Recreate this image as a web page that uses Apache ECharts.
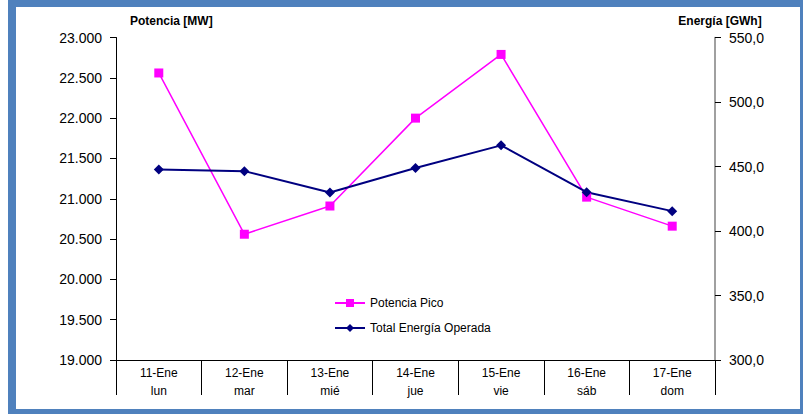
<!DOCTYPE html>
<html>
<head>
<meta charset="utf-8">
<script src="https://cdn.jsdelivr.net/npm/echarts@6/dist/echarts.min.js"></script>
<style>
  html, body { margin: 0; padding: 0; background: #fff; }
  #chart { width: 803px; height: 414px; }
</style>
</head>
<body>
<div id="chart"></div>
<script>
var days = ['11-Ene\nlun', '12-Ene\nmar', '13-Ene\nmié', '14-Ene\njue', '15-Ene\nvie', '16-Ene\nsáb', '17-Ene\ndom'];
var potenciaPico = [22560, 20560, 20910, 22000, 22790, 21020, 20660];
var energiaTotal = [447.7, 446.4, 429.9, 448.8, 466.4, 430.1, 415.4];

var frame = '#4F81BD';
var font = '"Liberation Sans", Arial, sans-serif';

var chart = echarts.init(document.getElementById('chart'), null, { renderer: 'svg' });
chart.setOption({
  animation: false,
  textStyle: { fontFamily: font },
  grid: { left: 116, right: 88, top: 37.5, bottom: 54 },
  legend: {
    orient: 'vertical', left: 329, top: 292, itemGap: 13,
    itemWidth: 30, itemHeight: 10,
    textStyle: { fontFamily: font, fontSize: 12, color: '#000' },
    data: ['Potencia Pico', 'Total Energía Operada']
  },
  xAxis: {
    type: 'category', data: days,
    axisLine: { show: true, onZero: false, lineStyle: { color: '#000', width: 1 } },
    axisTick: { show: true, interval: 0, length: 35, lineStyle: { color: '#000', width: 1 } },
    axisLabel: { color: '#000', fontSize: 12, lineHeight: 18, margin: 4, interval: 0 }
  },
  yAxis: [{
    type: 'value', min: 19000, max: 23000, interval: 500,
    name: 'Potencia [MW]', nameLocation: 'end', nameGap: 11,
    nameTextStyle: { fontFamily: font, fontSize: 12, fontWeight: 'bold', color: '#000', align: 'left', padding: [0, 0, 0, 14] },
    axisLine: { show: true, lineStyle: { color: '#000' } },
    axisTick: { show: true, inside: false, length: 6, lineStyle: { color: '#000', width: 1 } },
    splitLine: { show: false },
    axisLabel: { color: '#000', fontSize: 14, margin: 14, formatter: function(v) {
      return Math.floor(v / 1000) + '.' + ('00' + (v % 1000)).slice(-3);
    } }
  }, {
    type: 'value', min: 300, max: 550, interval: 50,
    name: 'Energía [GWh]', nameLocation: 'end', nameGap: 11,
    nameTextStyle: { fontFamily: font, fontSize: 12, fontWeight: 'bold', color: '#000', padding: [0, 0, 0, 10] },
    axisLine: { show: true, lineStyle: { color: '#808080', width: 1.5 } },
    axisTick: { show: true, inside: false, length: 6, lineStyle: { color: '#000', width: 1 } },
    splitLine: { show: false },
    axisLabel: { color: '#000', fontSize: 14, margin: 14, formatter: function(v) {
      return v.toFixed(1).replace('.', ',');
    } }
  }],
  series: [{
    name: 'Potencia Pico', type: 'line', yAxisIndex: 0, data: potenciaPico,
    symbol: 'rect', symbolSize: 9,
    lineStyle: { color: '#FF00FF', width: 1.5 },
    itemStyle: { color: '#FF00FF' }
  }, {
    name: 'Total Energía Operada', type: 'line', yAxisIndex: 1, data: energiaTotal,
    symbol: 'diamond', symbolSize: 10,
    lineStyle: { color: '#000080', width: 2 },
    itemStyle: { color: '#000080' },
    z: 3
  }],
  graphic: [
    { type: 'rect', shape: { x: 8, y: 0, width: 795, height: 7 }, style: { fill: frame } },
    { type: 'rect', shape: { x: 8, y: 0, width: 8, height: 414 }, style: { fill: frame } },
    { type: 'rect', shape: { x: 8, y: 409, width: 795, height: 5 }, style: { fill: frame } },
    { type: 'rect', shape: { x: 800, y: 0, width: 3, height: 414 }, style: { fill: frame } }
  ]
});
</script>
</body>
</html>
